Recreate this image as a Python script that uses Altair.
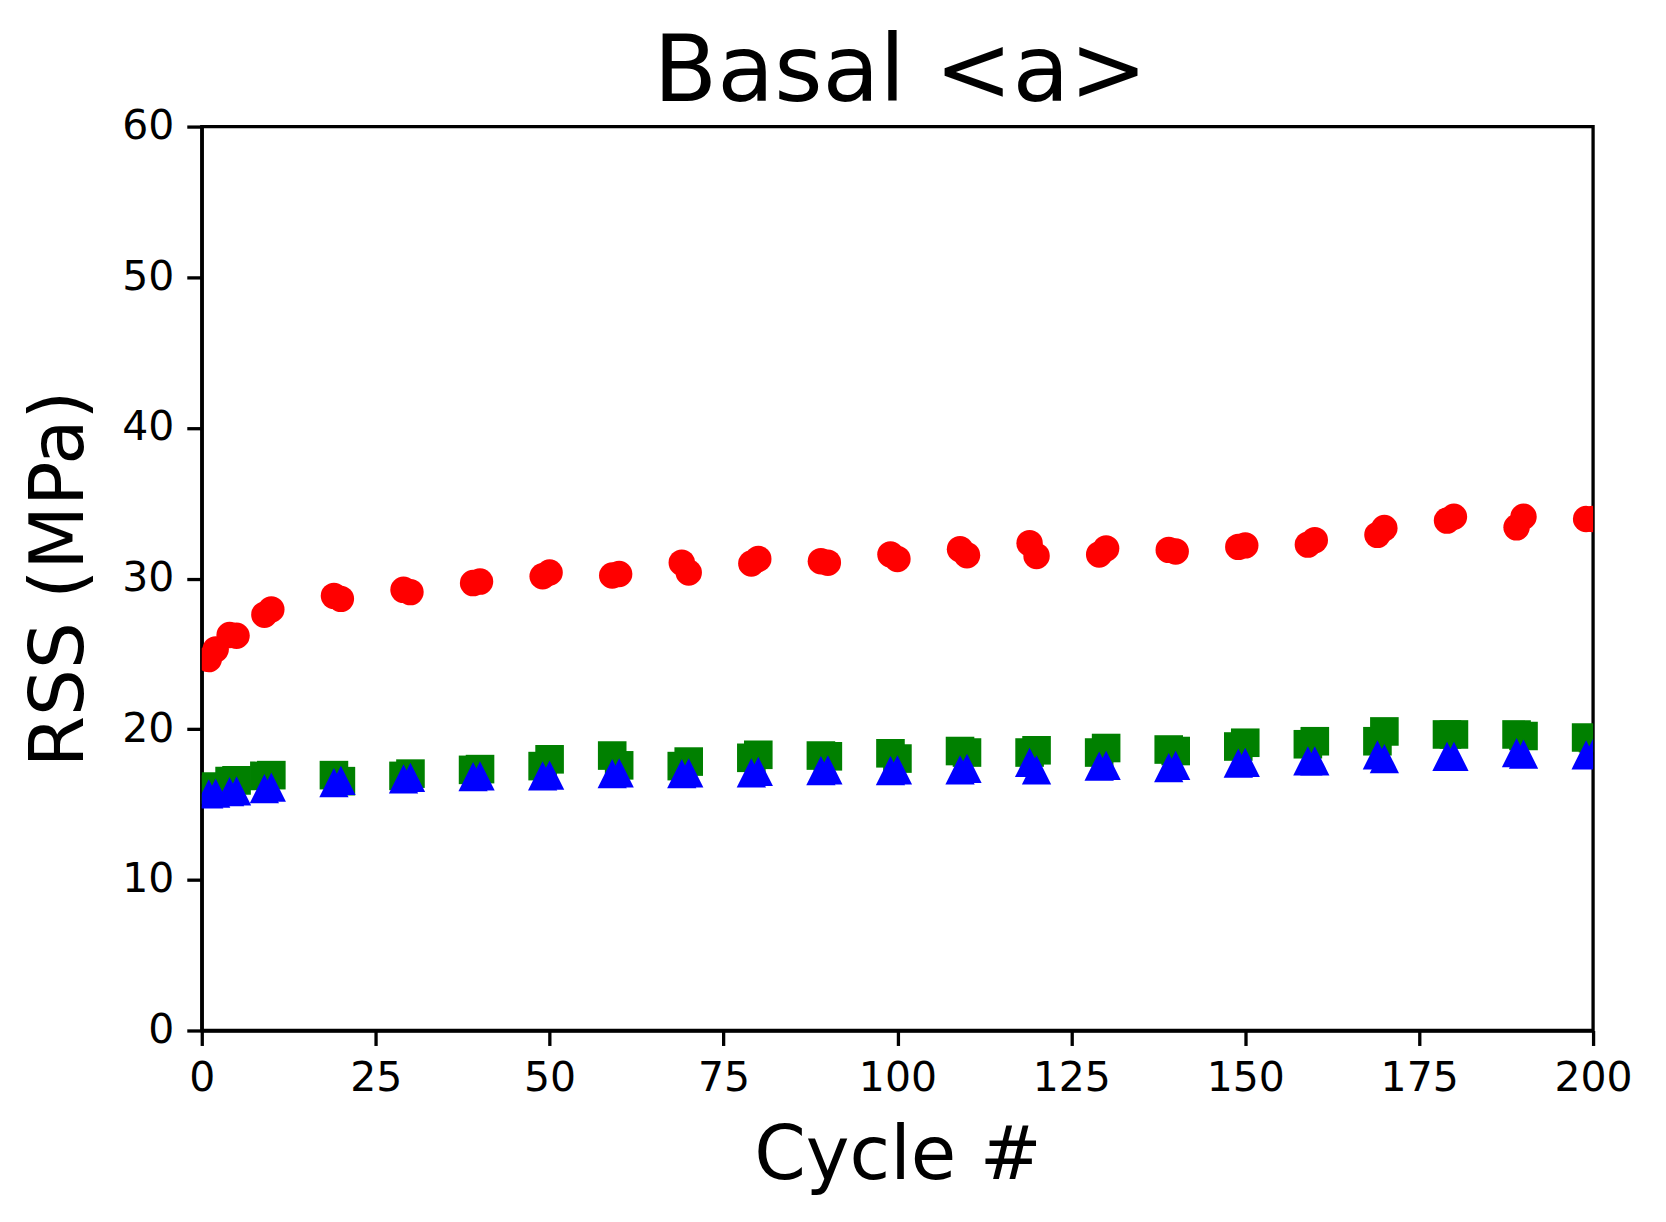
import altair as alt
import pandas as pd

cycles = [1, 2, 4, 5, 9, 10, 19, 20, 29, 30, 39, 40, 49, 50, 59, 60, 69, 70, 79, 80,
          89, 90, 99, 100, 109, 110, 119, 120, 129, 130, 139, 140, 149, 150, 159, 160,
          169, 170, 179, 180, 189, 190, 199, 200]

red_vals = [24.65, 25.3, 26.25, 26.2, 27.6, 27.95, 28.85, 28.65, 29.25, 29.1, 29.7, 29.8,
            30.15, 30.4, 30.2, 30.3, 31.05, 30.4, 31.0, 31.3, 31.15, 31.05, 31.6, 31.3,
            31.95, 31.55, 32.35, 31.5, 31.6, 32.0, 31.9, 31.8, 32.1, 32.2, 32.25, 32.55,
            32.9, 33.35, 33.85, 34.1, 33.4, 34.1, 33.95, 33.95]

green_vals = [16.0, 16.2, 16.55, 16.6, 16.9, 16.95, 16.95, 16.55, 16.9, 17.05, 17.3, 17.35,
              17.55, 18.0, 18.25, 17.6, 17.55, 17.85, 18.1, 18.3, 18.25, 18.2, 18.4, 18.05,
              18.55, 18.45, 18.45, 18.6, 18.45, 18.75, 18.65, 18.55, 18.85, 19.1, 19.0, 19.2,
              19.2, 19.85, 19.65, 19.65, 19.65, 19.55, 19.45, 19.4]

blue_vals = [15.7, 15.75, 15.85, 15.9, 16.05, 16.15, 16.45, 16.6, 16.7, 16.8, 16.85, 16.9,
             16.9, 16.95, 17.05, 17.1, 17.05, 17.1, 17.1, 17.2, 17.25, 17.3, 17.25, 17.3,
             17.3, 17.4, 17.8, 17.3, 17.55, 17.6, 17.45, 17.6, 17.75, 17.8, 17.9, 17.9,
             18.3, 18.05, 18.2, 18.2, 18.45, 18.35, 18.3, 18.4]

x_ticks = [0, 25, 50, 75, 100, 125, 150, 175, 200]
y_ticks = [0, 10, 20, 30, 40, 50, 60]
title_text = ["Basal <a>"]

FONT = "DejaVu Sans"
W, H = 1393, 905

def frame(vals):
    return pd.DataFrame({"cycle": cycles, "rss": vals})

x_enc = alt.X("cycle:Q",
              scale=alt.Scale(domain=[0, 200], nice=False, zero=False),
              axis=alt.Axis(values=x_ticks, title="Cycle #", titleX=W / 2, titleY=148,
                            titleBaseline="alphabetic", titleAlign="center"))
y_enc = alt.Y("rss:Q",
              scale=alt.Scale(domain=[0, 60], nice=False),
              axis=alt.Axis(values=y_ticks, title="RSS (MPa)", titleX=-119, titleY=H / 2,
                            titleBaseline="alphabetic", titleAlign="center", titleAngle=270))

red = alt.Chart(frame(red_vals)).mark_point(
    shape="circle", filled=True, size=700, color="#ff0000", opacity=1, strokeWidth=0, clip=True
).encode(x=x_enc, y=y_enc)

green = alt.Chart(frame(green_vals)).mark_point(
    shape="square", filled=True, size=820, color="#008000", opacity=1, strokeWidth=0, clip=True
).encode(x=x_enc, y=y_enc)

blue = alt.Chart(frame(blue_vals)).mark_point(
    shape="M0,-1L-1,1L1,1Z", filled=True, size=860, color="#0000ff", opacity=1, strokeWidth=0, clip=True
).encode(x=x_enc, y=y_enc)

title = alt.Chart(pd.DataFrame({"t": title_text})).mark_text(
    font=FONT, fontSize=93, color="black", align="center", baseline="alphabetic"
).encode(text="t:N", x=alt.value(W / 2 + 3), y=alt.value(-26))

chart = alt.layer(red, green, blue, title).properties(
    width=W, height=H,
    background="white",
    autosize=alt.AutoSizeParams(type="none"),
    padding={"left": 194, "top": 118, "right": 65, "bottom": 175},
).configure_view(
    stroke="black", strokeWidth=3.3
).configure_axis(
    grid=False, domainColor="black", domainWidth=3.3,
    tickColor="black", tickWidth=3.3, tickSize=15,
    labelFont=FONT, labelFontSize=41, labelColor="black", labelPadding=13,
    titleFont=FONT, titleFontSize=74, titleFontWeight="normal", titleColor="black",
    labelFlush=False, labelOverlap=False
)

chart.save("out.html", embed_options={"renderer": "svg", "actions": False})
